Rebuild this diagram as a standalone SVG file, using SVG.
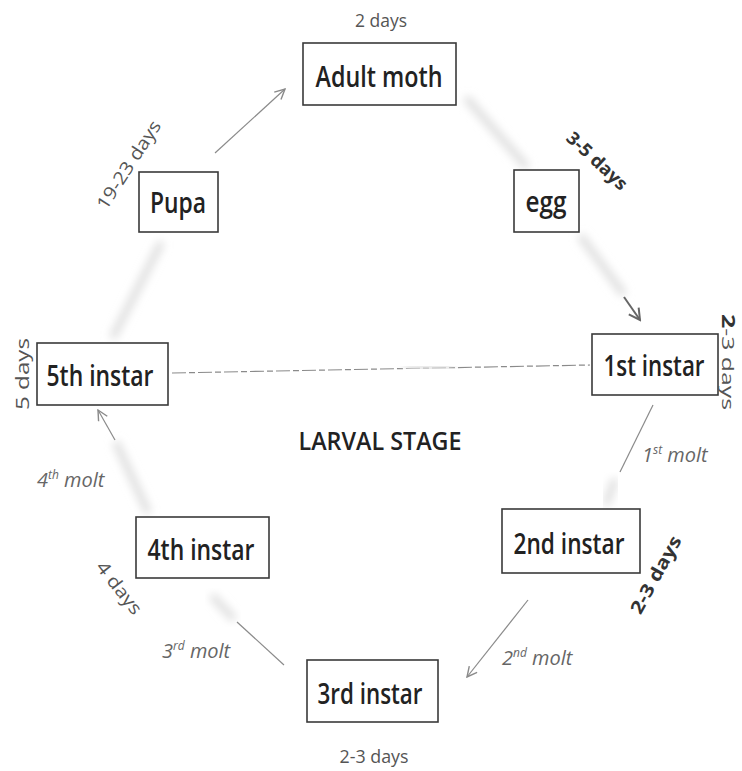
<svg xmlns="http://www.w3.org/2000/svg" width="742" height="771" viewBox="0 0 742 771">
<defs>
<style>
.box{fill:#fff;stroke:#3a3a3a;stroke-width:1.6}
.lbl{font-family:"Open Sans","Liberation Sans",sans-serif;font-weight:600;font-size:29px;fill:#222;text-anchor:middle}
.day{font-family:"Open Sans","Liberation Sans",sans-serif;font-size:18px;fill:#555;text-anchor:middle}
.dayb{font-family:"Open Sans","Liberation Sans",sans-serif;font-weight:700;font-size:18px;fill:#333;text-anchor:middle}
.molt{font-family:"Open Sans","Liberation Sans",sans-serif;font-style:italic;font-size:20px;fill:#666}
.sup{font-size:12px}
.con{fill:none;stroke:#8a8a8a;stroke-width:1.2}
.blur{fill:none;stroke:#e0e0e0;stroke-width:8;stroke-linecap:round;filter:url(#bl)}
</style>
<filter id="bl" x="-50%" y="-50%" width="200%" height="200%"><feGaussianBlur stdDeviation="4"/></filter>
<marker id="ah" viewBox="0 0 12 12" refX="11" refY="6" markerWidth="12" markerHeight="12" markerUnits="userSpaceOnUse" orient="auto">
<path d="M1,1 L11,6 L1,11" fill="none" stroke="#8a8a8a" stroke-width="1.4"/>
</marker>
<marker id="ahd" viewBox="0 0 14 14" refX="12" refY="7" markerWidth="14" markerHeight="14" markerUnits="userSpaceOnUse" orient="auto">
<path d="M1,1 L12,7 L1,13" fill="none" stroke="#666" stroke-width="2"/>
</marker>
</defs>
<rect width="742" height="771" fill="#fff"/>

<g id="connectors">
<line class="con" x1="215" y1="153" x2="285" y2="89" marker-end="url(#ah)"/>
<line class="blur" x1="468" y1="100" x2="525" y2="165"/>
<line class="blur" x1="582" y1="238" x2="622" y2="292"/>
<line x1="624" y1="297" x2="640" y2="320" style="stroke:#666;stroke-width:2" marker-end="url(#ahd)"/>
<path class="con" d="M172,373 L590,365" stroke-dasharray="14 3 6 3"/>
<line class="blur" x1="408" y1="368" x2="450" y2="367"/>
<line class="con" x1="653" y1="405" x2="620" y2="472"/>
<line class="blur" x1="614" y1="482" x2="607" y2="502"/>
<line class="con" x1="528" y1="600" x2="467" y2="677" marker-end="url(#ah)"/>
<line class="blur" x1="214" y1="598" x2="232" y2="617"/>
<line class="con" x1="237" y1="622" x2="284" y2="665"/>
<line class="blur" x1="147" y1="510" x2="117" y2="445"/>
<line class="con" x1="115" y1="440" x2="98" y2="410" marker-end="url(#ah)"/>
<line class="blur" x1="160" y1="245" x2="114" y2="335"/>
</g>

<g id="adult-moth">
<rect class="box" x="303" y="43" width="153" height="62"/>
<text class="lbl" x="379" y="87" textLength="127" lengthAdjust="spacingAndGlyphs">Adult moth</text>
<text class="day" x="381" y="27" textLength="52" lengthAdjust="spacingAndGlyphs">2 days</text>
</g>

<g id="egg">
<rect class="box" x="514" y="170" width="65" height="62"/>
<text class="lbl" x="546" y="212" textLength="41" lengthAdjust="spacingAndGlyphs">egg</text>
<text class="dayb" transform="translate(597,161) rotate(43)" x="0" y="6" textLength="76" lengthAdjust="spacingAndGlyphs">3-5 days</text>
</g>

<g id="first-instar">
<rect class="box" x="592" y="334" width="126" height="61"/>
<text class="lbl" x="654" y="376" textLength="101" lengthAdjust="spacingAndGlyphs">1st instar</text>
<text class="day" transform="translate(729,362) rotate(90)" x="0" y="7" style="font-size:17px" textLength="96" lengthAdjust="spacingAndGlyphs"><tspan style="font-weight:700;fill:#333">2</tspan>-3 days</text>
<text class="molt" x="642" y="462">1<tspan class="sup" dy="-8">st</tspan><tspan dy="8"> molt</tspan></text>
</g>

<g id="second-instar">
<rect class="box" x="502" y="509" width="138" height="64"/>
<text class="lbl" x="569" y="554" textLength="111" lengthAdjust="spacingAndGlyphs">2nd instar</text>
<text class="dayb" transform="translate(656,575) rotate(-61)" x="0" y="6" textLength="86" lengthAdjust="spacingAndGlyphs">2-3 days</text>
<text class="molt" x="502" y="665">2<tspan class="sup" dy="-8">nd</tspan><tspan dy="8"> molt</tspan></text>
</g>

<g id="third-instar">
<rect class="box" x="307" y="660" width="131" height="62"/>
<text class="lbl" x="370" y="704" textLength="105" lengthAdjust="spacingAndGlyphs">3rd instar</text>
<text class="day" x="374" y="763" textLength="69" lengthAdjust="spacingAndGlyphs">2-3 days</text>
<text class="molt" x="162" y="658">3<tspan class="sup" dy="-8">rd</tspan><tspan dy="8"> molt</tspan></text>
</g>

<g id="fourth-instar">
<rect class="box" x="136" y="517" width="133" height="61"/>
<text class="lbl" x="201" y="560" textLength="107" lengthAdjust="spacingAndGlyphs">4th instar</text>
<text class="day" transform="translate(119,588) rotate(52)" x="0" y="6" textLength="62" lengthAdjust="spacingAndGlyphs">4 days</text>
<text class="molt" x="37" y="487">4<tspan class="sup" dy="-8">th</tspan><tspan dy="8"> molt</tspan></text>
</g>

<g id="fifth-instar">
<rect class="box" x="37" y="343" width="131" height="62"/>
<text class="lbl" x="100" y="386" textLength="107" lengthAdjust="spacingAndGlyphs">5th instar</text>
<text class="day" transform="translate(22,374) rotate(-90)" x="0" y="7" textLength="72" lengthAdjust="spacingAndGlyphs">5 days</text>
</g>

<g id="pupa">
<rect class="box" x="139" y="172" width="79" height="60"/>
<text class="lbl" x="178" y="213" textLength="56" lengthAdjust="spacingAndGlyphs">Pupa</text>
<text class="day" transform="translate(129,165) rotate(-57)" x="0" y="6" textLength="102" lengthAdjust="spacingAndGlyphs">19-23 days</text>
</g>

<g id="larval-stage">
<text class="lbl" x="380" y="450" style="font-size:26px" textLength="163" lengthAdjust="spacingAndGlyphs">LARVAL STAGE</text>
</g>
</svg>
